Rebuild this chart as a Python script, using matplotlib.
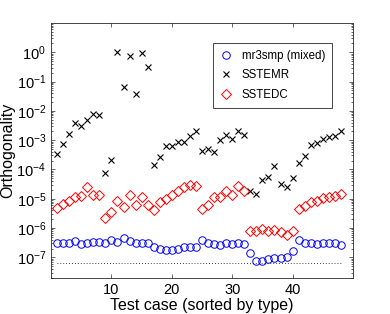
import matplotlib
matplotlib.use('Agg')
import matplotlib.pyplot as plt
import numpy as np
from matplotlib.ticker import LogLocator, NullFormatter

plt.rcParams['font.family'] = ['Liberation Sans', 'DejaVu Sans']
plt.rcParams['mathtext.fontset'] = 'custom'
plt.rcParams['mathtext.rm'] = 'Liberation Sans'
plt.rcParams['mathtext.it'] = 'Liberation Sans:italic'

# test cases 1..48, sorted by type
cases = np.arange(1, 49)

mr3smp = [3.1e-7, 3.0e-7, 3.1e-7, 3.7e-7, 2.9e-7, 3.0e-7, 3.4e-7, 3.4e-7,
          3.0e-7, 4.0e-7, 3.4e-7, 4.6e-7, 3.5e-7, 3.1e-7, 3.1e-7, 3.1e-7,
          2.35e-7, 1.9e-7, 1.8e-7, 1.8e-7, 1.9e-7, 2.2e-7, 2.2e-7, 2.3e-7,
          3.9e-7, 3.0e-7, 2.9e-7, 2.7e-7, 3.2e-7, 2.8e-7, 3.0e-7, 2.8e-7,
          1.4e-7, 7.8e-8, 7.8e-8, 8.7e-8, 9.3e-8, 9.5e-8, 1.07e-7, 1.7e-7,
          3.9e-7, 3.2e-7, 3.1e-7, 2.9e-7, 3.1e-7, 3.0e-7, 3.0e-7, 2.6e-7]

sstemr = [3.3e-4, 7.4e-4, 1.6e-3, 3.9e-3, 3.1e-3, 5.0e-3, 7.9e-3, 7.1e-3,
          7.8e-5, 2.1e-4, 1.02, 6.3e-2, 0.72, 3.7e-2, 0.95, 0.32,
          1.4e-4, 2.6e-4, 6.5e-4, 6.5e-4, 8.5e-4, 8.9e-4, 1.35e-3, 2.1e-3,
          4.4e-4, 5.1e-4, 4.1e-4, 1.0e-3, 1.55e-3, 1.1e-3, 2.0e-3, 1.5e-3,
          1.8e-5, 1.4e-5, 4.4e-5, 5.6e-5, 1.3e-4, 3.2e-5, 2.6e-5, 5.0e-5,
          1.7e-4, 2.9e-4, 6.8e-4, 7.8e-4, 1.1e-3, 1.3e-3, 1.35e-3, 2.1e-3]

sstedc = [4.7e-6, 6.6e-6, 8.5e-6, 1.12e-5, 1.2e-5, 2.6e-5, 1.38e-5, 1.38e-5,
          2.2e-6, 3.5e-6, 8.1e-6, 5.1e-6, 1.38e-5, 6.3e-6, 1.17e-5, 6.2e-6,
          4.3e-6, 7.6e-6, 9.8e-6, 1.35e-5, 1.8e-5, 2.45e-5, 3.0e-5, 2.8e-5,
          4.6e-6, 6.0e-6, 1.15e-5, 1.15e-5, 1.9e-5, 1.35e-5, 2.7e-5, 1.9e-5,
          7.9e-7, 8.1e-7, 9.3e-7, 8.1e-7, 8.7e-7, 7.1e-7, 5.8e-7, 8.1e-7,
          4.5e-6, 5.8e-6, 7.6e-6, 8.5e-6, 1.05e-5, 1.12e-5, 1.26e-5, 1.45e-5]

ref_level = 6.3e-8
xticks = [10, 20, 30, 40]
yticks = [1e-7, 1e-6, 1e-5, 1e-4, 1e-3, 1e-2, 1e-1, 1e0]

fig = plt.figure(figsize=(3.9, 3.14), dpi=100)
ax = fig.add_axes([0.131, 0.115, 0.774, 0.812])

ax.semilogy(cases, mr3smp, linestyle='none', marker='o', markersize=5.4,
            markerfacecolor='none', markeredgecolor='#0000ff', markeredgewidth=0.7,
            label='mr3smp (mixed)')
ax.semilogy(cases, sstemr, linestyle='none', marker='x', markersize=4,
            color='black', markeredgewidth=0.8, label='SSTEMR')
ax.semilogy(cases, sstedc, linestyle='none', marker='D', markersize=4.6,
            markerfacecolor='none', markeredgecolor='#ff0000', markeredgewidth=0.7,
            label='SSTEDC')
ax.plot([cases[0], cases[-1]], [ref_level, ref_level], linestyle=(0, (1, 2.5)),
        color='black', linewidth=0.6)

ax.set_xlim(0, 50)
ax.set_ylim(2e-8, 10)
ax.set_xticks(xticks)
ax.set_yticks(yticks)
ax.yaxis.set_minor_locator(LogLocator(base=10, subs=np.arange(2, 10), numticks=20))
ax.yaxis.set_minor_formatter(NullFormatter())
ax.tick_params(which='both', direction='in', top=True, right=True, labelsize=10.5,
               width=0.5, colors='#262626', labelcolor='black')
ax.tick_params(which='major', length=3)
ax.tick_params(which='minor', length=1.6)
for s in ax.spines.values():
    s.set_linewidth(0.6)
    s.set_color('#262626')

ax.set_xlabel('Test case (sorted by type)', fontsize=11.5, labelpad=1)
ax.set_ylabel('Orthogonality', fontsize=11.5, labelpad=1)

leg = ax.legend(loc='upper right', bbox_to_anchor=(0.93, 0.922), borderaxespad=0,
                numpoints=1, fontsize=8.3, fancybox=False, framealpha=1,
                edgecolor='#262626', handlelength=1.1, handletextpad=0.8,
                borderpad=0.6, labelspacing=0.65)
leg.get_frame().set_linewidth(0.6)

plt.savefig('out.png', dpi=100)
plt.close()
